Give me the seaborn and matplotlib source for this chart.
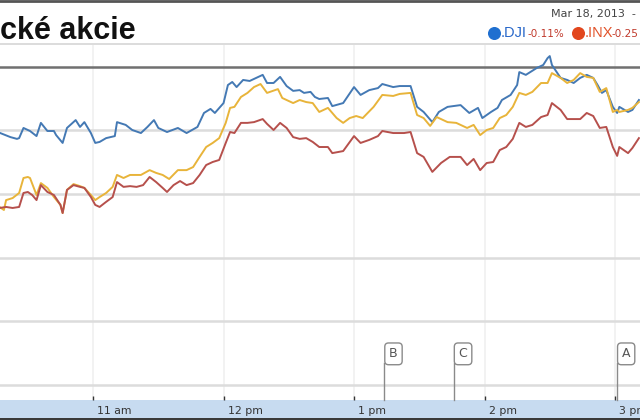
import numpy as np
import pandas as pd
import seaborn as sb
import matplotlib
matplotlib.use('Agg')
import matplotlib.pyplot as plt
from matplotlib.transforms import blended_transform_factory, offset_copy

# minutes after 10:00 and % change vs previous close
dji_t = [17, 22, 25, 26, 28, 31, 34, 36, 39, 42, 43, 46, 48, 52, 54, 56, 59, 61, 63, 66,
         70, 71, 75, 78, 82, 85, 88, 90, 94, 99, 103, 108, 111, 114, 116, 120, 122, 124,
         126, 129, 132, 135, 138, 140, 143, 146, 149, 152, 155, 157, 160, 162, 164, 168,
         170, 175, 180, 183, 187, 191, 193, 198, 201, 206, 209, 212, 216, 219, 223, 229,
         233, 237, 239, 243, 246, 248, 252, 255, 256, 259, 264, 267, 269, 270, 271, 275,
         278, 281, 284, 287, 290, 292, 294, 296, 299, 301, 302, 306, 308, 311]
dji_pct = [-0.259, -0.276, -0.283, -0.280, -0.240, -0.252, -0.272, -0.220, -0.252, -0.252,
           -0.268, -0.299, -0.240, -0.209, -0.236, -0.217, -0.260, -0.299, -0.295, -0.280,
           -0.272, -0.217, -0.228, -0.248, -0.260, -0.236, -0.209, -0.240, -0.256, -0.240,
           -0.260, -0.236, -0.181, -0.165, -0.181, -0.142, -0.071, -0.059, -0.079, -0.051,
           -0.055, -0.043, -0.031, -0.063, -0.063, -0.039, -0.075, -0.094, -0.091, -0.102,
           -0.098, -0.118, -0.126, -0.122, -0.154, -0.142, -0.079, -0.110, -0.091, -0.083,
           -0.067, -0.079, -0.075, -0.075, -0.157, -0.177, -0.217, -0.177, -0.157, -0.150,
           -0.181, -0.161, -0.201, -0.177, -0.161, -0.130, -0.110, -0.071, -0.020, -0.031,
           -0.004, 0.008, 0.035, 0.043, 0.008, -0.043, -0.051, -0.063, -0.043, -0.031,
           -0.043, -0.071, -0.102, -0.091, -0.157, -0.181, -0.157, -0.177, -0.169, -0.130]

ixic_t = [17, 19, 20, 23, 26, 28, 30, 31, 34, 36, 39, 42, 45, 46, 48, 51, 54, 56, 59, 61,
          63, 66, 69, 71, 74, 77, 82, 86, 89, 92, 95, 99, 103, 106, 109, 112, 115, 118, 121,
          123, 125, 128, 131, 134, 137, 140, 145, 147, 152, 155, 158, 161, 164, 168, 172,
          175, 178, 181, 184, 189, 193, 198, 201, 206, 209, 212, 215, 218, 223, 227, 232,
          235, 238, 241, 244, 247, 250, 253, 256, 259, 262, 266, 269, 271, 275, 278, 281,
          284, 287, 290, 293, 296, 299, 301, 302, 306, 308, 311]
ixic_pct = [-0.551, -0.563, -0.524, -0.516, -0.496, -0.437, -0.433, -0.437, -0.504, -0.457,
            -0.476, -0.512, -0.543, -0.575, -0.484, -0.461, -0.469, -0.476, -0.504, -0.524,
            -0.512, -0.496, -0.472, -0.425, -0.437, -0.425, -0.425, -0.406, -0.417, -0.425,
            -0.441, -0.406, -0.406, -0.394, -0.354, -0.315, -0.299, -0.280, -0.220, -0.161,
            -0.157, -0.118, -0.102, -0.079, -0.067, -0.102, -0.087, -0.122, -0.142, -0.130,
            -0.138, -0.142, -0.177, -0.161, -0.201, -0.220, -0.201, -0.193, -0.201, -0.157,
            -0.110, -0.114, -0.106, -0.102, -0.189, -0.201, -0.232, -0.197, -0.217, -0.220,
            -0.240, -0.228, -0.268, -0.248, -0.240, -0.201, -0.189, -0.157, -0.102, -0.110,
            -0.098, -0.063, -0.063, -0.024, -0.043, -0.063, -0.051, -0.024, -0.039, -0.043,
            -0.098, -0.083, -0.177, -0.169, -0.177, -0.169, -0.161, -0.138]

inx_t = [17, 20, 23, 26, 28, 30, 32, 34, 36, 39, 42, 45, 46, 48, 51, 54, 56, 59, 61, 63,
         66, 69, 71, 74, 77, 80, 83, 86, 89, 92, 94, 97, 100, 103, 106, 109, 112, 115, 118,
         121, 123, 125, 128, 131, 134, 138, 140, 143, 146, 149, 152, 155, 158, 161, 164,
         168, 170, 175, 180, 183, 187, 191, 193, 198, 203, 206, 209, 212, 216, 220, 224,
         229, 232, 235, 238, 241, 244, 247, 250, 253, 256, 259, 262, 266, 269, 271, 275,
         278, 281, 284, 287, 290, 293, 296, 299, 301, 302, 306, 308, 311]
inx_pct = [-0.555, -0.551, -0.555, -0.551, -0.496, -0.492, -0.504, -0.524, -0.465, -0.492,
           -0.504, -0.543, -0.575, -0.484, -0.465, -0.472, -0.476, -0.512, -0.543, -0.551,
           -0.531, -0.512, -0.453, -0.472, -0.469, -0.472, -0.465, -0.433, -0.453, -0.476,
           -0.492, -0.465, -0.449, -0.465, -0.457, -0.425, -0.386, -0.374, -0.366, -0.299,
           -0.256, -0.260, -0.220, -0.220, -0.217, -0.205, -0.224, -0.248, -0.220, -0.240,
           -0.276, -0.283, -0.280, -0.295, -0.315, -0.315, -0.339, -0.331, -0.272, -0.299,
           -0.287, -0.272, -0.252, -0.260, -0.260, -0.256, -0.339, -0.354, -0.413, -0.378,
           -0.354, -0.354, -0.386, -0.362, -0.406, -0.378, -0.374, -0.327, -0.315, -0.283,
           -0.220, -0.236, -0.228, -0.197, -0.189, -0.142, -0.169, -0.205, -0.205, -0.205,
           -0.181, -0.193, -0.240, -0.236, -0.315, -0.350, -0.315, -0.339, -0.319, -0.280]

hour_ticks = [60, 120, 180, 240, 300]
hour_labels = ['11 am', '12 pm', '1 pm', '2 pm', '3 pm']
grid_levels = [-0.25, -0.5, -0.75, -1.0, -1.25]
flag_times = [194, 226, 301]
flag_labels = ['B', 'C', 'A']

df = pd.concat([
    pd.DataFrame({'t': dji_t, 'pct': dji_pct, 'serie': '.DJI'}),
    pd.DataFrame({'t': ixic_t, 'pct': ixic_pct, 'serie': '.IXIC'}),
    pd.DataFrame({'t': inx_t, 'pct': inx_pct, 'serie': '.INX'}),
])
culori = {'.DJI': '#4479b4', '.IXIC': '#e8b43a', '.INX': '#b6504c'}

fig = plt.figure(figsize=(6.4, 4.2), dpi=100)

# fundal in coordonate pixel
deco = fig.add_axes([0, 0, 1, 1])
deco.set_xlim(0, 640)
deco.set_ylim(420, 0)
deco.axis('off')
deco.axhline(y=0.8, color='#555555', lw=2)
deco.axhline(y=44, color='#d6d6d6', lw=1.2)
deco.add_patch(plt.Rectangle((0, 400), 640, 18, color='#c7dbf0', lw=0))
deco.add_patch(plt.Rectangle((0, 418), 640, 2, color='#3a3a3a', lw=0))

deco.text(0, 39, 'cké akcie', fontsize=22, fontweight='bold',
          family='Liberation Sans', color='#111111', va='baseline')
deco.text(551, 14, 'Mar 18, 2013  -', fontsize=8, family='DejaVu Sans',
          color='#444444', va='center')
deco.scatter([494], [33], s=70, color='#1f6fd0', zorder=3)
deco.text(501, 33, '.DJI', fontsize=10.5, family='Liberation Sans',
          color='#2766c9', va='center')
deco.text(528, 34, '-0.11%', fontsize=7.5, family='DejaVu Sans',
          color='#c0392b', va='center')
deco.scatter([578], [33], s=70, color='#e2461d', zorder=3)
deco.text(585, 33, '.INX', fontsize=10.5, family='Liberation Sans',
          color='#e2542b', va='center')
deco.text(612, 34, '-0.25', fontsize=7.5, family='DejaVu Sans',
          color='#c0392b', va='center')

ax = fig.add_axes([0, 20 / 420, 1, 355 / 420])
ax.patch.set_alpha(0)
ax.set_xlim(17.2, 311.5)
ax.set_ylim(-1.311, 0.0866)

for x in hour_ticks:
    ax.axvline(x=x, color='#f0f0f0', lw=1.2, zorder=0)
for y in grid_levels:
    ax.axhline(y=y, color='#dcdcdc', lw=1.8, zorder=0)
ax.axhline(y=0, color='#707070', lw=1.8, zorder=1)

sb.lineplot(data=df, x='t', y='pct', hue='serie', palette=culori,
            estimator=None, sort=False, lw=1.4, legend=False, ax=ax, zorder=2)

ax.set_xticks(hour_ticks)
ax.set_xticklabels([])
ax.set_yticks([])
ax.tick_params(axis='x', direction='in', length=3, width=1, color='#333333')
for s in ax.spines.values():
    s.set_visible(False)
ax.set_xlabel('')
ax.set_ylabel('')

trans = blended_transform_factory(ax.transData, ax.transAxes)
lbl_trans = offset_copy(trans, fig=fig, x=4, y=0, units='dots')
for x, lab in zip(hour_ticks, hour_labels):
    ax.text(x, -0.031, lab, transform=lbl_trans, fontsize=7.8,
            family='DejaVu Sans', color='#333333', ha='left', va='center',
            clip_on=False)

box_trans = offset_copy(trans, fig=fig, x=9, y=0, units='dots')
for x, lab in zip(flag_times, flag_labels):
    ax.plot([x, x], [0, 0.104], transform=trans, color='#8a8a8a', lw=1,
            clip_on=False)
    ax.text(x, 0.13, lab, transform=box_trans, fontsize=9,
            family='DejaVu Sans', color='#555555', ha='center', va='center',
            bbox=dict(boxstyle='round,pad=0.35,rounding_size=0.3',
                      fc='white', ec='#8a8a8a', lw=1))

fig.savefig('out.png', dpi=100)
